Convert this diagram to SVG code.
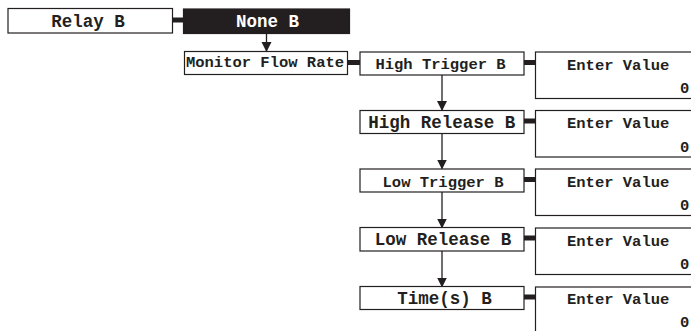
<svg xmlns="http://www.w3.org/2000/svg" width="691" height="331" viewBox="0 0 691 331">
<style>
.box{fill:#fff;stroke:#231f20;stroke-width:1.2}
.dark{fill:#231f20;stroke:#231f20;stroke-width:1.2}
.t{font-family:"Liberation Mono","Courier New",monospace;font-weight:bold;fill:#231f20;text-anchor:middle}
.s{font-size:15.5px}
.l{font-size:17.5px}
.ev{font-family:"Liberation Mono","Courier New",monospace;font-weight:bold;fill:#231f20;font-size:15.5px}
.w{fill:#fff}
.bar{fill:#231f20}
.ln{stroke:#231f20;stroke-width:1.3;fill:none}
</style>
<defs>
<marker id="ah" markerWidth="10" markerHeight="12" refX="9" refY="5" orient="auto" markerUnits="userSpaceOnUse" viewBox="0 0 10 10">
<path d="M0,0 L10,5 L0,10 z" fill="#231f20"/>
</marker>
</defs>
<g id="connectors">
<rect class="bar" x="172" y="17.5" width="12" height="5"/>
<rect class="bar" x="347" y="60" width="14" height="5"/>
<rect class="bar" x="523" y="60" width="13" height="5"/>
<rect class="bar" x="523" y="118.5" width="13" height="5"/>
<rect class="bar" x="523" y="177" width="13" height="5"/>
<rect class="bar" x="523" y="235.5" width="13" height="5"/>
<rect class="bar" x="523" y="294.5" width="13" height="5"/>
<line class="ln" x1="266.5" y1="33.5" x2="266.5" y2="51" marker-end="url(#ah)"/>
<line class="ln" x1="442" y1="75" x2="442" y2="110" marker-end="url(#ah)"/>
<line class="ln" x1="442" y1="133.5" x2="442" y2="168.5" marker-end="url(#ah)"/>
<line class="ln" x1="442" y1="192" x2="442" y2="227.5" marker-end="url(#ah)"/>
<line class="ln" x1="442" y1="251" x2="442" y2="286.5" marker-end="url(#ah)"/>
</g>
<g id="relay"><rect class="box" x="8" y="8.5" width="164.5" height="24.5"/><text class="t l" x="88" y="26.5">Relay B</text></g>
<g id="none"><rect class="dark" x="183.5" y="9" width="166" height="24.5"/><text class="t l w" x="267.5" y="27.3">None B</text></g>
<g id="monitor"><rect class="box" x="184.5" y="51.5" width="163" height="23"/><text class="t s" x="265" y="66.7">Monitor Flow Rate</text></g>
<g id="hightrigger"><rect class="box" x="360" y="52" width="164" height="23"/><text class="t s" x="440.5" y="69">High Trigger B</text></g>
<g id="highrelease"><rect class="box" x="360" y="110.5" width="164" height="23"/><text class="t l" x="441.7" y="128.3">High Release B</text></g>
<g id="lowtrigger"><rect class="box" x="360" y="169" width="164" height="23"/><text class="t s" x="443" y="187.3">Low Trigger B</text></g>
<g id="lowrelease"><rect class="box" x="360" y="227.5" width="164" height="23.5"/><text class="t l" x="443" y="245">Low Release B</text></g>
<g id="time"><rect class="box" x="360" y="286.5" width="164" height="23"/><text class="t l" x="444.5" y="304">Time(s) B</text></g>
<g id="value1"><rect class="box" x="535.5" y="52" width="170" height="46.5"/><text class="ev" x="567" y="70">Enter Value</text><text class="ev" x="680" y="93.3">0</text></g>
<g id="value2"><rect class="box" x="535.5" y="110.5" width="170" height="46.5"/><text class="ev" x="567" y="128.3">Enter Value</text><text class="ev" x="680" y="151.7">0</text></g>
<g id="value3"><rect class="box" x="535.5" y="169" width="170" height="46.5"/><text class="ev" x="567" y="187.3">Enter Value</text><text class="ev" x="680" y="209.5">0</text></g>
<g id="value4"><rect class="box" x="535.5" y="228" width="170" height="46.5"/><text class="ev" x="567" y="246">Enter Value</text><text class="ev" x="680" y="268.5">0</text></g>
<g id="value5"><rect class="box" x="535.5" y="287" width="170" height="60"/><text class="ev" x="567" y="303.5">Enter Value</text><text class="ev" x="680" y="326.5">0</text></g>
</svg>
